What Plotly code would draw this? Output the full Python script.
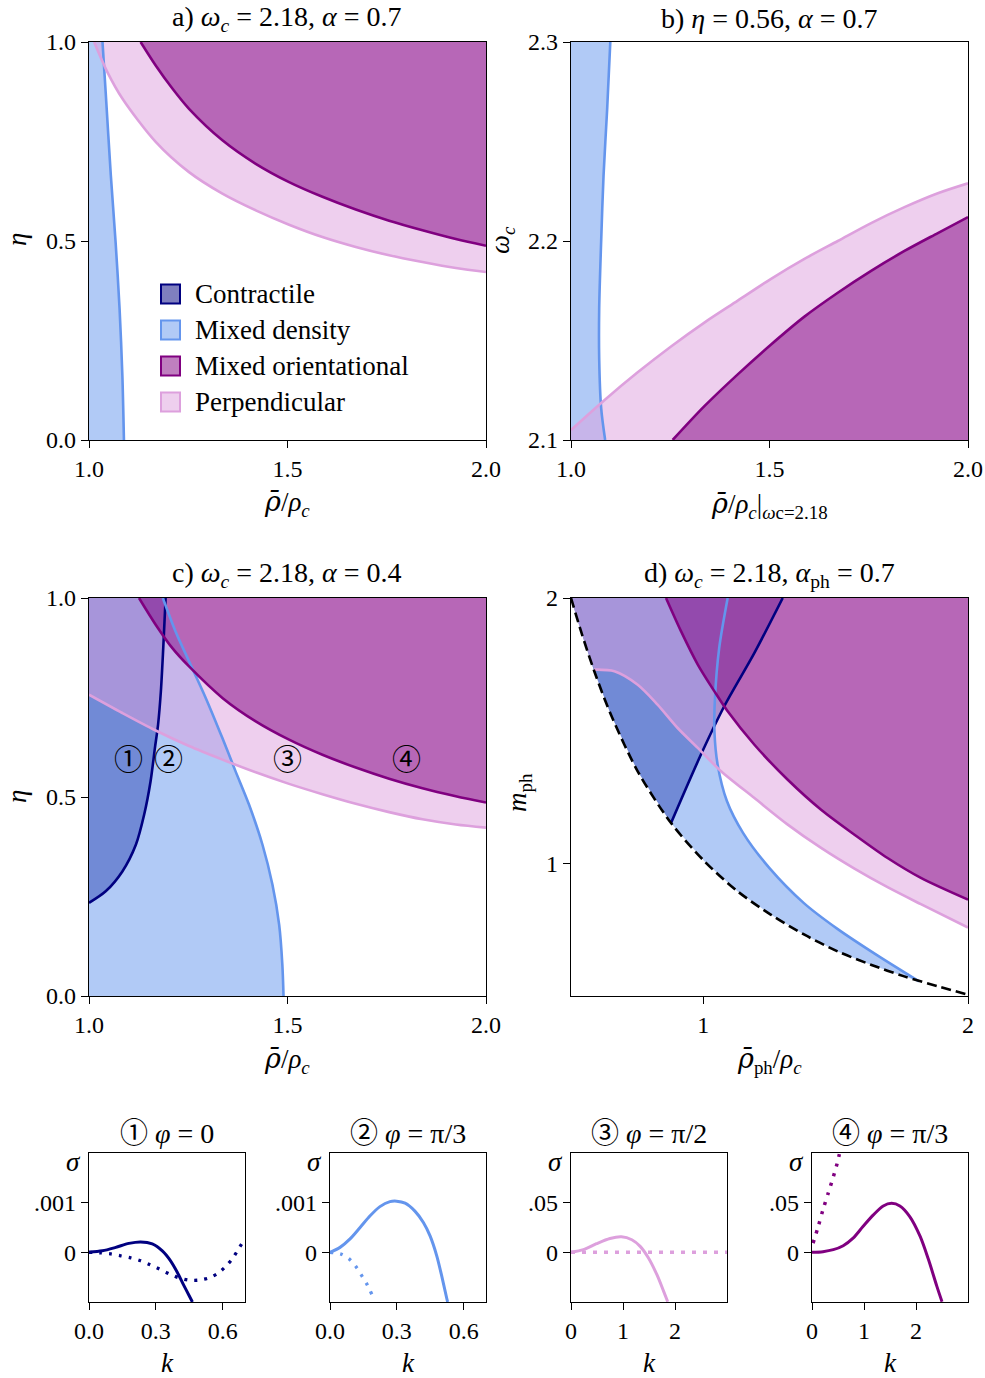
import plotly.graph_objects as go

W, H = 985, 1378
SERIF = "Liberation Serif, DejaVu Serif, serif"
CIRC = "Noto Sans CJK JP, DejaVu Sans, sans-serif"

NAVY, CORN, PURPLE, PLUM = "#000080", "#6495ED", "#800080", "#DDA0DD"
FILL = {NAVY: "rgba(0,0,128,0.5)", CORN: "rgba(100,149,237,0.5)",
        PURPLE: "rgba(128,0,128,0.5)", PLUM: "rgba(221,160,221,0.5)"}

# ---------------- data ----------------
# a) omega_c = 2.18, alpha = 0.7 : x = rho/rho_c, y = eta
a_xr, a_yr = [1.0, 2.0], [0.0, 1.0]
a_md_x = [1.034, 1.042, 1.055, 1.067, 1.077, 1.084, 1.088]
a_md_y = [1.0, 0.874, 0.665, 0.497, 0.33, 0.163, 0.0]
a_perp_x = [1.013, 1.046, 1.084, 1.168, 1.252, 1.336, 1.42, 1.504, 1.588, 1.672, 1.756, 1.84, 1.924, 2.0]
a_perp_y = [1.0, 0.925, 0.858, 0.749, 0.673, 0.619, 0.577, 0.541, 0.51, 0.485, 0.464, 0.447, 0.432, 0.422]
a_mo_x = [1.130, 1.168, 1.21, 1.252, 1.336, 1.42, 1.504, 1.588, 1.672, 1.756, 1.84, 1.924, 2.0]
a_mo_y = [1.0, 0.941, 0.883, 0.832, 0.753, 0.694, 0.648, 0.611, 0.579, 0.551, 0.527, 0.505, 0.488]

# b) eta = 0.56, alpha = 0.7 : x = rho/rho_c, y = omega_c
b_xr, b_yr = [1.0, 2.0], [2.1, 2.3]
b_md_x = [1.099, 1.091, 1.082, 1.076, 1.071, 1.071, 1.076, 1.086]
b_md_y = [2.3, 2.266, 2.233, 2.2, 2.166, 2.141, 2.116, 2.1]
b_perp_x = [1.0, 1.084, 1.168, 1.252, 1.336, 1.42, 1.504, 1.588, 1.672, 1.756, 1.84, 1.924, 2.0]
b_perp_y = [2.105, 2.120, 2.134, 2.147, 2.159, 2.170, 2.181, 2.191, 2.200, 2.209, 2.217, 2.224, 2.229]
b_mo_x = [1.256, 1.336, 1.42, 1.504, 1.588, 1.672, 1.756, 1.84, 1.924, 2.0]
b_mo_y = [2.1, 2.117, 2.133, 2.148, 2.162, 2.174, 2.185, 2.195, 2.204, 2.212]

# c) omega_c = 2.18, alpha = 0.4
c_xr, c_yr = [1.0, 2.0], [0.0, 1.0]
c_con_x = [1.0, 1.042, 1.084, 1.118, 1.139, 1.155, 1.166, 1.174, 1.181, 1.187, 1.193]
c_con_y = [0.234, 0.263, 0.313, 0.38, 0.456, 0.539, 0.623, 0.682, 0.765, 0.874, 1.0]
c_md_x = [1.186, 1.218, 1.252, 1.294, 1.336, 1.369, 1.403, 1.437, 1.462, 1.479, 1.487, 1.49]
c_md_y = [1.0, 0.916, 0.841, 0.749, 0.648, 0.565, 0.481, 0.38, 0.28, 0.179, 0.079, 0.0]
c_perp_x = [1.0, 1.084, 1.168, 1.252, 1.336, 1.42, 1.504, 1.588, 1.672, 1.756, 1.84, 1.924, 2.0]
c_perp_y = [0.757, 0.711, 0.667, 0.628, 0.594, 0.562, 0.533, 0.507, 0.483, 0.462, 0.444, 0.431, 0.423]
c_mo_x = [1.126, 1.168, 1.21, 1.252, 1.336, 1.42, 1.504, 1.588, 1.672, 1.756, 1.84, 1.924, 2.0]
c_mo_y = [1.0, 0.933, 0.874, 0.828, 0.749, 0.69, 0.644, 0.606, 0.574, 0.546, 0.522, 0.502, 0.486]
c_lab_x = [1.1, 1.2, 1.5, 1.8]
c_lab_y = [0.6, 0.6, 0.6, 0.6]
c_lab_t = ["\u2460", "\u2461", "\u2462", "\u2463"]

# d) omega_c = 2.18, alpha_ph = 0.7 : x = rho_ph/rho_c, y = m_ph
d_xr, d_yr = [0.5, 2.0], [0.5, 2.0]
d_bound_x = [0.5, 0.538, 0.588, 0.651, 0.752, 0.878, 1.004, 1.13, 1.256, 1.382, 1.508, 1.633, 1.759, 1.885, 2.0]
d_bound_y = [2.0, 1.874, 1.724, 1.56, 1.347, 1.152, 1.008, 0.894, 0.806, 0.731, 0.668, 0.618, 0.574, 0.537, 0.505]
d_con_x = [0.878, 0.991, 1.079, 1.193, 1.3]
d_con_y = [1.152, 1.41, 1.592, 1.793, 2.0]
d_md_x = [1.092, 1.06, 1.044, 1.042, 1.054, 1.089, 1.150, 1.250, 1.380, 1.508, 1.659, 1.815]
d_md_y = [2.0, 1.812, 1.623, 1.497, 1.372, 1.235, 1.115, 0.982, 0.850, 0.752, 0.652, 0.555]
d_perp_x = [0.588, 0.664, 0.752, 0.827, 0.903, 0.979, 1.067, 1.193, 1.319, 1.445, 1.571, 1.696, 1.822, 2.0]
d_perp_y = [1.73, 1.724, 1.673, 1.598, 1.51, 1.435, 1.347, 1.246, 1.146, 1.058, 0.980, 0.910, 0.846, 0.758]
d_mo_x = [0.859, 0.916, 0.979, 1.042, 1.092, 1.193, 1.319, 1.445, 1.571, 1.696, 1.822, 2.0]
d_mo_y = [2.0, 1.874, 1.749, 1.648, 1.573, 1.447, 1.315, 1.202, 1.108, 1.02, 0.945, 0.863]

# growth rates sigma(k)
s1_k = [0.0, 0.06, 0.12, 0.179, 0.232, 0.284, 0.329, 0.366, 0.396, 0.426, 0.449, 0.464]
s1_s = [0.0, 0.00003, 0.0001, 0.00018, 0.00021, 0.00017, 0.00003, -0.00017, -0.0004, -0.00067, -0.00087, -0.001]
s1_kd = [0.0, 0.052, 0.097, 0.142, 0.187, 0.232, 0.274, 0.317, 0.359, 0.401, 0.446, 0.491, 0.535, 0.576, 0.61, 0.643, 0.666, 0.691, 0.7]
s1_sd = [0.0, -0.00001, -0.00003, -0.00007, -0.00011, -0.00017, -0.00025, -0.00034, -0.00043, -0.00051, -0.00056, -0.00056, -0.00052, -0.00043, -0.0003, -0.00013, 0.00003, 0.00021, 0.00026]

s2_k = [0.0, 0.045, 0.09, 0.135, 0.179, 0.224, 0.269, 0.299, 0.337, 0.381, 0.419, 0.449, 0.479, 0.501, 0.524, 0.528]
s2_s = [0.0, 0.0001, 0.00027, 0.0005, 0.00073, 0.00092, 0.00102, 0.00103, 0.00099, 0.00083, 0.0006, 0.00033, -0.00007, -0.00047, -0.00093, -0.001]
s2_kd = [0.0, 0.052, 0.09, 0.12, 0.145, 0.168, 0.19]
s2_sd = [0.0, -0.00004, -0.00015, -0.00031, -0.00049, -0.00066, -0.00087]

s3_k = [0.0, 0.24, 0.49, 0.75, 0.97, 1.17, 1.33, 1.49, 1.65, 1.78, 1.86]
s3_s = [0.0, 0.0027, 0.0087, 0.014, 0.0157, 0.0127, 0.006, -0.0057, -0.0223, -0.039, -0.0497]
s3_kd = [0.0, 3.0]
s3_sd = [0.0, 0.0]

s4_k = [0.0, 0.21, 0.41, 0.6, 0.79, 0.98, 1.18, 1.37, 1.53, 1.69, 1.88, 2.08, 2.24, 2.4, 2.5]
s4_s = [0.0, 0.0007, 0.0027, 0.0067, 0.0143, 0.026, 0.0377, 0.0467, 0.0493, 0.0467, 0.036, 0.016, -0.0073, -0.034, -0.0497]
s4_kd = [0.02, 0.12, 0.21, 0.31, 0.41, 0.5, 0.53]
s4_sd = [0.0093, 0.026, 0.0427, 0.0593, 0.076, 0.0927, 0.1]

# ---------------- figure ----------------
fig = go.Figure()
SM = 0.85

def region(ax, bx, by, ex, ey, col):
    """fill between boundary curve (bx, by, smoothed) and edge path (ex, ey, traversed backwards)"""
    fig.add_trace(go.Scatter(x=ex, y=ey, mode="lines", line=dict(width=0),
                             xaxis="x" + ax, yaxis="y" + ax, hoverinfo="skip", showlegend=False))
    fig.add_trace(go.Scatter(x=bx, y=by, mode="lines", fill="tonexty", fillcolor=FILL[col],
                             line=dict(width=0, shape="spline", smoothing=SM),
                             xaxis="x" + ax, yaxis="y" + ax, hoverinfo="skip", showlegend=False))

def line(ax, xs, ys, col, width=2.6, dash=None):
    fig.add_trace(go.Scatter(x=xs, y=ys, mode="lines",
                             line=dict(color=col, width=width, dash=dash, shape="spline", smoothing=SM),
                             xaxis="x" + ax, yaxis="y" + ax, hoverinfo="skip", showlegend=False))

# panel a
region("1", a_md_x, a_md_y, [a_xr[0], a_xr[0]], [a_yr[1], a_yr[0]], CORN)
region("1", a_perp_x, a_perp_y, [a_perp_x[0], a_xr[1]], [a_yr[1], a_yr[1]], PLUM)
region("1", a_mo_x, a_mo_y, [a_mo_x[0], a_xr[1]], [a_yr[1], a_yr[1]], PURPLE)
line("1", a_md_x, a_md_y, CORN)
line("1", a_perp_x, a_perp_y, PLUM)
line("1", a_mo_x, a_mo_y, PURPLE)

# panel b
region("2", b_md_x, b_md_y, [b_xr[0], b_xr[0]], [b_yr[1], b_yr[0]], CORN)
region("2", b_perp_x, b_perp_y, [b_xr[0], b_xr[1]], [b_yr[0], b_yr[0]], PLUM)
region("2", b_mo_x, b_mo_y, [b_mo_x[0], b_xr[1]], [b_yr[0], b_yr[0]], PURPLE)
line("2", b_md_x, b_md_y, CORN)
line("2", b_perp_x, b_perp_y, PLUM)
line("2", b_mo_x, b_mo_y, PURPLE)

# panel c
region("3", c_con_x, c_con_y, [c_xr[0], c_xr[0]], [c_con_y[0], c_yr[1]], NAVY)
region("3", c_md_x, c_md_y, [c_xr[0], c_xr[0]], [c_yr[1], c_yr[0]], CORN)
region("3", c_perp_x, c_perp_y, [c_xr[0], c_xr[1]], [c_yr[1], c_yr[1]], PLUM)
region("3", c_mo_x, c_mo_y, [c_mo_x[0], c_xr[1]], [c_yr[1], c_yr[1]], PURPLE)
line("3", c_con_x, c_con_y, NAVY)
line("3", c_md_x, c_md_y, CORN)
line("3", c_perp_x, c_perp_y, PLUM)
line("3", c_mo_x, c_mo_y, PURPLE)

# panel d
bi = [i for i, v in enumerate(d_bound_x) if v <= d_con_x[0]][::-1]
region("4", d_con_x, d_con_y,
       [d_bound_x[i] for i in bi] + [d_con_x[-1]], [d_bound_y[i] for i in bi] + [d_yr[1]], NAVY)
bj = [i for i, v in enumerate(d_bound_x) if v < d_md_x[-1]]
region("4", d_md_x, d_md_y,
       [d_md_x[0]] + [d_bound_x[i] for i in bj], [d_yr[1]] + [d_bound_y[i] for i in bj], CORN)
bk = [i for i, v in enumerate(d_bound_x) if v < d_perp_x[0]][::-1]
region("4", d_perp_x, d_perp_y,
       [d_bound_x[i] for i in bk] + [d_xr[1]], [d_bound_y[i] for i in bk] + [d_yr[1]], PLUM)
region("4", d_mo_x, d_mo_y, [d_mo_x[0], d_xr[1]], [d_yr[1], d_yr[1]], PURPLE)
line("4", d_con_x, d_con_y, NAVY)
line("4", d_md_x, d_md_y, CORN)
line("4", d_perp_x, d_perp_y, PLUM)
line("4", d_mo_x, d_mo_y, PURPLE)
line("4", d_bound_x, d_bound_y, "black", width=2.6, dash="10px,5px")

# small panels
line("5", s1_k, s1_s, NAVY, width=3)
line("5", s1_kd, s1_sd, NAVY, width=3.3, dash="3px,7px")
line("6", s2_k, s2_s, CORN, width=3)
line("6", s2_kd, s2_sd, CORN, width=3.3, dash="3px,7px")
line("7", s3_k, s3_s, PLUM, width=3)
line("7", s3_kd, s3_sd, PLUM, width=3.5, dash="4px,7px")
line("8", s4_k, s4_s, PURPLE, width=3)
line("8", s4_kd, s4_sd, PURPLE, width=3.5, dash="3px,7px")

# ---------------- axes ----------------
BOX = {  # left, right, top, bottom in pixels
    "1": (89, 486, 42, 440), "2": (571, 968, 42, 440),
    "3": (89, 486, 598, 996), "4": (571, 968, 598, 996),
    "5": (89, 245, 1153, 1302), "6": (330, 486, 1153, 1302),
    "7": (571, 727, 1153, 1302), "8": (812, 968, 1153, 1302),
}
XR = {"1": a_xr, "2": b_xr, "3": c_xr, "4": d_xr,
      "5": [0, 0.7], "6": [0, 0.7], "7": [0, 3], "8": [0, 3]}
YR = {"1": a_yr, "2": b_yr, "3": c_yr, "4": d_yr,
      "5": [-0.001, 0.002], "6": [-0.001, 0.002], "7": [-0.05, 0.1], "8": [-0.05, 0.1]}
XT = {"1": ([1.0, 1.5, 2.0], ["1.0", "1.5", "2.0"]), "2": ([1.0, 1.5, 2.0], ["1.0", "1.5", "2.0"]),
      "3": ([1.0, 1.5, 2.0], ["1.0", "1.5", "2.0"]), "4": ([1, 2], ["1", "2"]),
      "5": ([0, 0.3, 0.6], ["0.0", "0.3", "0.6"]), "6": ([0, 0.3, 0.6], ["0.0", "0.3", "0.6"]),
      "7": ([0, 1, 2], ["0", "1", "2"]), "8": ([0, 1, 2], ["0", "1", "2"])}
YT = {"1": ([0, 0.5, 1], ["0.0", "0.5", "1.0"]), "2": ([2.1, 2.2, 2.3], ["2.1", "2.2", "2.3"]),
      "3": ([0, 0.5, 1], ["0.0", "0.5", "1.0"]), "4": ([1, 2], ["1", "2"]),
      "5": ([0, 0.001], ["0", ".001"]), "6": ([0, 0.001], ["0", ".001"]),
      "7": ([0, 0.05], ["0", ".05"]), "8": ([0, 0.05], ["0", ".05"])}

TICKFONT = dict(family=SERIF, size=24, color="black")
common = dict(showline=True, mirror=True, linecolor="black", linewidth=1.4, ticks="outside",
              ticklen=7, tickwidth=1.3, tickcolor="black", showgrid=False, zeroline=False,
              tickfont=TICKFONT, fixedrange=True, automargin=False)
layout = {}
for k, (l, r, t, b) in BOX.items():
    sx = "xaxis" if k == "1" else "xaxis" + k
    sy = "yaxis" if k == "1" else "yaxis" + k
    layout[sx] = dict(domain=[l / W, r / W], anchor="y" + k, range=XR[k],
                      tickvals=XT[k][0], ticktext=XT[k][1], **common)
    layout[sy] = dict(domain=[1 - b / H, 1 - t / H], anchor="x" + k, range=YR[k],
                      tickvals=YT[k][0], ticktext=YT[k][1], **common)

ann = []
FS = 27
def text(px, py, s, size=FS, angle=0, xanchor="center", font=SERIF):
    ann.append(dict(x=px / W, y=1 - py / H, xref="paper", yref="paper", text=s, showarrow=False,
                    xanchor=xanchor, yanchor="middle", textangle=angle,
                    font=dict(family=font, size=size, color="black")))

RHO = "<span style='font-family:DejaVu Serif'><i>\u03c1\u0304</i></span>"
RHOC = "<i>\u03c1<sub>c</sub></i>"
text(287, 18, "a) <i>\u03c9<sub>c</sub></i> = 2.18, <i>\u03b1</i> = 0.7", size=28)
text(769, 18, "b) <i>\u03b7</i> = 0.56, <i>\u03b1</i> = 0.7", size=28)
text(287, 574, "c) <i>\u03c9<sub>c</sub></i> = 2.18, <i>\u03b1</i> = 0.4", size=28)
text(769, 574, "d) <i>\u03c9<sub>c</sub></i> = 2.18, <i>\u03b1</i><sub>ph</sub> = 0.7", size=28)
text(287, 503, RHO + "/" + RHOC)
text(769, 505, RHO + "/" + RHOC + "|<sub><i>\u03c9</i>c=2.18</sub>")
text(287, 1060, RHO + "/" + RHOC)
text(769, 1060, RHO + "<sub>ph</sub>/" + RHOC)
text(17, 240, "<i>\u03b7</i>", angle=-90)
text(502, 240, "<i>\u03c9<sub>c</sub></i>", angle=-90)
text(17, 797, "<i>\u03b7</i>", angle=-90)
text(519, 793, "<i>m</i><sub>ph</sub>", angle=-90)

CS = "<span style='font-family:Noto Sans CJK JP'>%s</span>"
titles_small = [CS % "\u2460" + " <i>\u03c6</i> = 0", CS % "\u2461" + " <i>\u03c6</i> = \u03c0/3",
                CS % "\u2462" + " <i>\u03c6</i> = \u03c0/2", CS % "\u2463" + " <i>\u03c6</i> = \u03c0/3"]
for k, tt in zip(["5", "6", "7", "8"], titles_small):
    l, r, t, b = BOX[k]
    text((l + r) / 2, 1131, tt, size=28)
    text((l + r) / 2, 1363, "<i>k</i>")
    text(l - 16, 1162, "<i>\u03c3</i>")

# circled region labels in panel c
for xx, yy, tt in zip(c_lab_x, c_lab_y, c_lab_t):
    ann.append(dict(x=xx, y=yy, xref="x3", yref="y3", text=tt, showarrow=False,
                    font=dict(family=CIRC, size=29, color="black")))

# legend in panel a
leg = [("Contractile", NAVY), ("Mixed density", CORN), ("Mixed orientational", PURPLE), ("Perpendicular", PLUM)]
shapes = []
for i, (name, col) in enumerate(leg):
    yc = 294 + 36 * i
    shapes.append(dict(type="rect", xref="paper", yref="paper", x0=161 / W, x1=180 / W,
                       y0=1 - (yc + 9.5) / H, y1=1 - (yc - 9.5) / H,
                       fillcolor=FILL[col], line=dict(color=col, width=2)))
    text(193, yc, name, xanchor="left")

fig.update_layout(width=W, height=H, margin=dict(l=0, r=0, t=0, b=0, autoexpand=False),
                  paper_bgcolor="white", plot_bgcolor="white", showlegend=False,
                  annotations=ann, shapes=shapes, **layout)
fig.write_html("out.html")
